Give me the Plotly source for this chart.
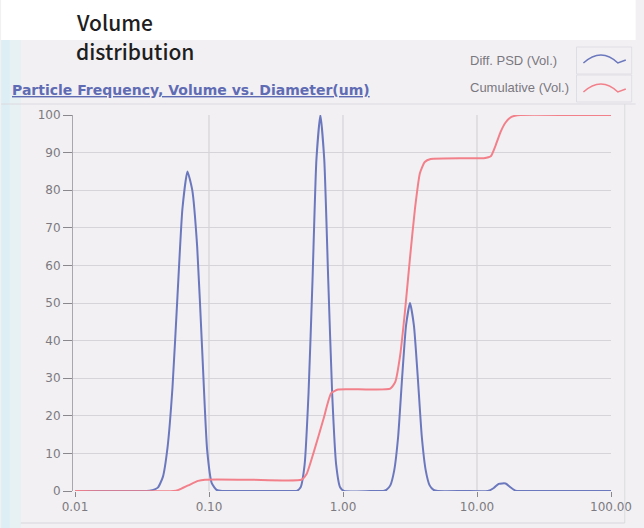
import plotly.graph_objects as go

# ---------------- data ----------------
DIFF_DIAMETER = [0.01, 0.02, 0.03, 0.036, 0.0415, 0.0452, 0.0490, 0.0534, 0.0581, 0.0633,
                 0.0690, 0.0750, 0.0816, 0.0888, 0.0968, 0.105, 0.114, 0.125, 0.2, 0.42,
                 0.451, 0.483, 0.517, 0.553, 0.592, 0.633, 0.678, 0.725, 0.776, 0.830,
                 0.889, 0.951, 1.017, 1.6, 2.0,
                 2.107, 2.254, 2.411, 2.580, 2.760, 2.953, 3.162, 3.383, 3.619, 3.872,
                 4.143, 4.432, 4.742, 5.1, 8.0, 12.05, 13.34, 14.52, 16.34, 17.78, 19.36,
                 21.09, 50.0, 100.0]
DIFF_VOLUME = [0, 0, 0, 0.1, 0.9, 3.7, 11.5, 27.6, 51.5, 75,
               85, 80, 65, 38, 11, 2, 0.3, 0, 0, 0,
               0, 1, 7, 26, 56, 88, 100, 88, 56, 26,
               7, 1, 0, 0, 0,
               0.3, 1.5, 5.5, 14.5, 30, 44, 50, 44, 30, 14.5,
               5.5, 1.5, 0.3, 0, 0, 0, 0.8, 1.9, 2.0, 1.0, 0.1,
               0, 0, 0]

CUM_DIAMETER = [0.01, 0.0544, 0.0592, 0.0701, 0.0830, 0.0935, 0.2, 0.491, 0.535, 0.601,
                0.713, 0.816, 0.919, 1.5, 2.254, 2.455, 2.668, 2.904, 3.162, 3.442,
                3.748, 4.074, 4.508, 8.0, 11.25, 12.67, 13.80, 15.00, 16.34, 18.07,
                21.09, 50.0, 100.0]
CUM_VOLUME = [0, 0, 0.3, 1.5, 2.7, 3.0, 3.0, 3.0, 4.5, 10,
              19, 26, 27, 27, 27.2, 29, 36, 48, 62, 75,
              84.5, 87.5, 88.3, 88.5, 88.5, 89, 92, 95.5, 98, 99.5,
              100, 100, 100]

X_TICK_VALUES = [0.01, 0.1, 1, 10, 100]
X_TICK_LABELS = ["0.01", "0.10", "1.00", "10.00", "100.00"]
X_GRID_VALUES = [0.1, 1, 10]
Y_TICK_VALUES = [0, 10, 20, 30, 40, 50, 60, 70, 80, 90, 100]

SERIES_NAMES = ["Diff. PSD (Vol.)", "Cumulative (Vol.)"]
CHART_TITLE = "Particle Frequency, Volume vs. Diameter(um)"
HEADER_LINES = ["Volume", "distribution"]

# ---------------- layout geometry ----------------
W, H = 644, 528
L, R, T, B = 73, 25, 115, 37
PW, PH = W - L - R, H - T - B

def px(x):
    return (x - L) / PW

def py(y):
    return (H - B - y) / PH

BLUE = "#6b78bd"
RED = "#f2808a"
BG = "#f2f0f3"
GRID = "#d6d4d9"
TXT = "#7c7a80"

fig = go.Figure()
fig.add_trace(go.Scatter(x=DIFF_DIAMETER, y=DIFF_VOLUME, mode="lines", name=SERIES_NAMES[0],
                         line=dict(color=BLUE, width=2, shape="spline", smoothing=0.5),
                         cliponaxis=False, showlegend=False))
fig.add_trace(go.Scatter(x=CUM_DIAMETER, y=CUM_VOLUME, mode="lines", name=SERIES_NAMES[1],
                         line=dict(color=RED, width=2, shape="spline", smoothing=0.5),
                         cliponaxis=False, showlegend=False))

shapes = []
# background pieces
shapes.append(dict(type="rect", xref="paper", yref="paper", x0=px(0), x1=px(W), y0=py(40), y1=py(0),
                   fillcolor="white", line=dict(width=0), layer="below"))
shapes.append(dict(type="rect", xref="paper", yref="paper", x0=px(0), x1=px(9), y0=py(H), y1=py(40),
                   fillcolor="#ddeff5", line=dict(width=0), layer="below"))
shapes.append(dict(type="rect", xref="paper", yref="paper", x0=px(9), x1=px(20), y0=py(H), y1=py(40),
                   fillcolor="#e7f0f3", line=dict(width=0), layer="below"))
# vertical grid lines
for gx in X_GRID_VALUES:
    shapes.append(dict(type="line", xref="x", yref="paper", x0=gx, x1=gx, y0=0, y1=1,
                       line=dict(color="#cfcdd2", width=1), layer="below"))
# panel borders
shapes.append(dict(type="line", xref="paper", yref="paper", x0=px(0), x1=px(W), y0=py(104), y1=py(104),
                   line=dict(color="#dcdadf", width=1)))
shapes.append(dict(type="line", xref="paper", yref="paper", x0=px(633), x1=px(633), y0=py(523), y1=py(104),
                   line=dict(color="#dcdadf", width=1)))
shapes.append(dict(type="line", xref="paper", yref="paper", x0=px(20), x1=px(633), y0=py(523), y1=py(523),
                   line=dict(color="#d8d6db", width=1)))
# legend cells
for (y0c, y1c) in [(47, 74), (75, 102)]:
    shapes.append(dict(type="rect", xref="paper", yref="paper", x0=px(584), x1=px(640), y0=py(y1c), y1=py(y0c),
                       line=dict(color="#e0dee5", width=1), fillcolor="rgba(0,0,0,0)"))
# legend wave icons
def wave(ymid, color):
    x0, x1, x2, x3 = px(591), px(609), px(626), px(634)
    ylo, yhi = py(ymid + 4), py(ymid - 4)
    ctrl = 2 * yhi - ylo
    path = f"M {x0},{ylo} Q {x1},{ctrl} {x2},{ylo} L {x3},{py(ymid + 1)}"
    return dict(type="path", xref="paper", yref="paper", path=path, line=dict(color=color, width=1.5))
shapes.append(wave(59, BLUE))
shapes.append(wave(88, RED))

annotations = [
    dict(text=HEADER_LINES[0], x=px(74), y=py(22), xref="paper", yref="paper", xanchor="left", yanchor="middle",
         showarrow=False, font=dict(family="Noto Sans CJK JP", size=21, color="#1e1e1e", weight=500)),
    dict(text=HEADER_LINES[1], x=px(74), y=py(51), xref="paper", yref="paper", xanchor="left", yanchor="middle",
         showarrow=False, font=dict(family="Noto Sans CJK JP", size=21, color="#1e1e1e", weight=500)),
    dict(text="<b><u>" + CHART_TITLE + "</u></b>", x=px(9), y=py(90), xref="paper", yref="paper",
         xanchor="left", yanchor="middle", showarrow=False,
         font=dict(family="DejaVu Sans", size=14, color="#5f6cb4")),
    dict(text=SERIES_NAMES[0], x=px(474), y=py(60), xref="paper", yref="paper", xanchor="left", yanchor="middle",
         showarrow=False, font=dict(family="Liberation Sans", size=13, color="#7a787f")),
    dict(text=SERIES_NAMES[1], x=px(474), y=py(88), xref="paper", yref="paper", xanchor="left", yanchor="middle",
         showarrow=False, font=dict(family="Liberation Sans", size=13, color="#7a787f")),
]

fig.update_layout(
    width=W, height=H,
    margin=dict(l=L, r=R, t=T, b=B, pad=0),
    paper_bgcolor=BG, plot_bgcolor=BG,
    shapes=shapes, annotations=annotations,
    showlegend=False,
    xaxis=dict(type="log", range=[-2.015, 2.0], tickvals=X_TICK_VALUES, ticktext=X_TICK_LABELS,
               showgrid=False, zeroline=False, showline=False,
               ticks="outside", ticklen=5, tickcolor="#8a888d", tickwidth=1,
               tickfont=dict(family="DejaVu Sans", size=12, color=TXT)),
    yaxis=dict(range=[0, 100], tickvals=Y_TICK_VALUES, showgrid=True, gridcolor=GRID, gridwidth=1,
               zeroline=False, showline=True, linecolor="#a9a7ad", linewidth=1,
               ticks="outside", ticklen=9, tickcolor="#8a888d", tickwidth=1,
               tickfont=dict(family="DejaVu Sans", size=12, color=TXT)),
)

fig.write_html("out.html", config={"displayModeBar": False},
               post_script="document.body.style.margin='0';document.body.style.overflow='hidden';")
